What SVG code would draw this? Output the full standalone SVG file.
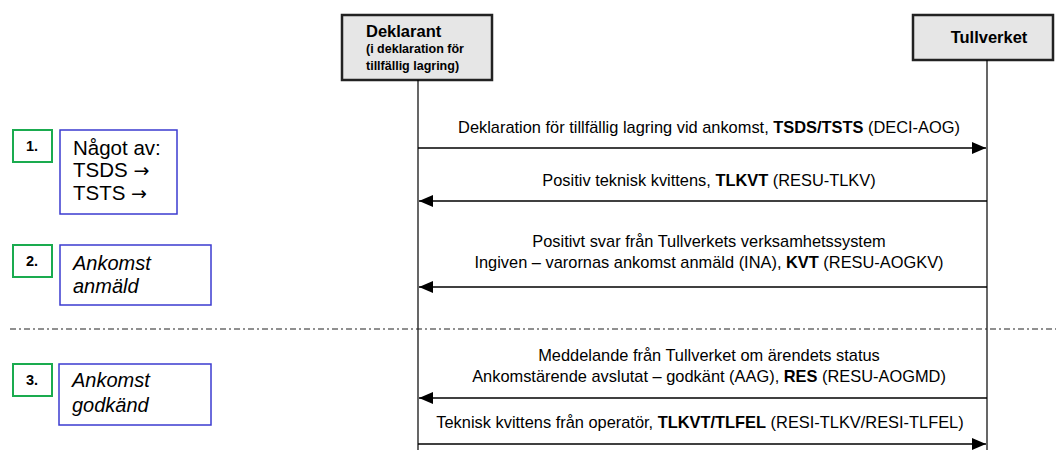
<svg xmlns="http://www.w3.org/2000/svg" width="1056" height="450" viewBox="0 0 1056 450">
<style>
text{font-family:"Liberation Sans",Arial,sans-serif;fill:#000}
.actor{fill:#e6e6e6;stroke:#222;stroke-width:2.5}
.life{stroke:#000;stroke-width:1.2}
.msg{stroke:#000;stroke-width:1.5;fill:none}
.lbl{font-size:16.4px;text-anchor:middle}
.num{fill:#fff;stroke:#1aab4f;stroke-width:2}
.numt{font-size:14.5px;font-weight:bold;text-anchor:middle}
.note{fill:#fff;stroke:#3b3bd0;stroke-width:1.5}
.nt{font-size:20.5px}
.ni{font-size:20px;font-style:italic}
.arr{font-family:"DejaVu Sans",sans-serif;font-size:19px}
</style>
<defs>
<marker id="ah" viewBox="0 0 14 12" refX="14" refY="6" markerWidth="14" markerHeight="12" markerUnits="userSpaceOnUse" orient="auto">
<path d="M0,0 L14,6 L0,12 z" fill="#000"/>
</marker>
</defs>
<g id="deklarant">
<rect class="actor" x="342" y="15" width="150" height="65"/>
<text x="366" y="37" font-size="16.5" font-weight="bold">Deklarant</text>
<text x="366" y="53" font-size="12.5" font-weight="bold">(i deklaration för</text>
<text x="366" y="70" font-size="12.5" font-weight="bold">tillfällig lagring)</text>
</g>
<g id="tullverket">
<rect class="actor" x="913" y="15" width="140" height="45"/>
<text x="989" y="43" font-size="16.5" font-weight="bold" text-anchor="middle">Tullverket</text>
</g>
<g id="lifelines">
<line class="life" x1="418" y1="80" x2="418" y2="450"/>
<line class="life" x1="987" y1="60" x2="987" y2="450"/>
</g>
<g id="separator">
<line x1="10" y1="329" x2="1056" y2="329" stroke="#222" stroke-width="1.2" stroke-dasharray="6,3,2,3"/>
</g>
<g id="connectors">
<line class="msg" x1="418" y1="148" x2="986" y2="148" marker-end="url(#ah)"/>
<line class="msg" x1="987" y1="201" x2="419" y2="201" marker-end="url(#ah)"/>
<line class="msg" x1="987" y1="287" x2="419" y2="287" marker-end="url(#ah)"/>
<line class="msg" x1="987" y1="398" x2="419" y2="398" marker-end="url(#ah)"/>
<line class="msg" x1="418" y1="444" x2="986" y2="444" marker-end="url(#ah)"/>
<text class="lbl" x="709" y="133">Deklaration för tillfällig lagring vid ankomst, <tspan font-weight="bold">TSDS/TSTS</tspan> (DECI-AOG)</text>
<text class="lbl" x="709" y="186">Positiv teknisk kvittens, <tspan font-weight="bold">TLKVT</tspan> (RESU-TLKV)</text>
<text class="lbl" x="709" y="247">Positivt svar från Tullverkets verksamhetssystem</text>
<text class="lbl" x="709" y="268">Ingiven – varornas ankomst anmäld (INA), <tspan font-weight="bold">KVT</tspan> (RESU-AOGKV)</text>
<text class="lbl" x="709" y="361">Meddelande från Tullverket om ärendets status</text>
<text class="lbl" x="709" y="382">Ankomstärende avslutat – godkänt (AAG), <tspan font-weight="bold">RES</tspan> (RESU-AOGMD)</text>
<text class="lbl" x="700" y="428">Teknisk kvittens från operatör, <tspan font-weight="bold">TLKVT/TLFEL</tspan> (RESI-TLKV/RESI-TLFEL)</text>
</g>
<g id="step1">
<rect class="num" x="13" y="130" width="39" height="32"/>
<text class="numt" x="32" y="151">1.</text>
<rect class="note" x="60" y="130" width="117" height="84"/>
<text class="nt" x="73" y="155">Något av:</text>
<text class="nt" x="73" y="177">TSDS <tspan class="arr">→</tspan></text>
<text class="nt" x="73" y="200">TSTS <tspan class="arr">→</tspan></text>
</g>
<g id="step2">
<rect class="num" x="13" y="245" width="39" height="32"/>
<text class="numt" x="32" y="266">2.</text>
<rect class="note" x="60" y="245" width="151" height="60"/>
<text class="ni" x="73" y="270">Ankomst</text>
<text class="ni" x="73" y="293">anmäld</text>
</g>
<g id="step3">
<rect class="num" x="13" y="364" width="39" height="32"/>
<text class="numt" x="32" y="385">3.</text>
<rect class="note" x="59" y="364" width="152" height="61"/>
<text class="ni" x="72" y="387">Ankomst</text>
<text class="ni" x="72" y="412">godkänd</text>
</g>
</svg>
